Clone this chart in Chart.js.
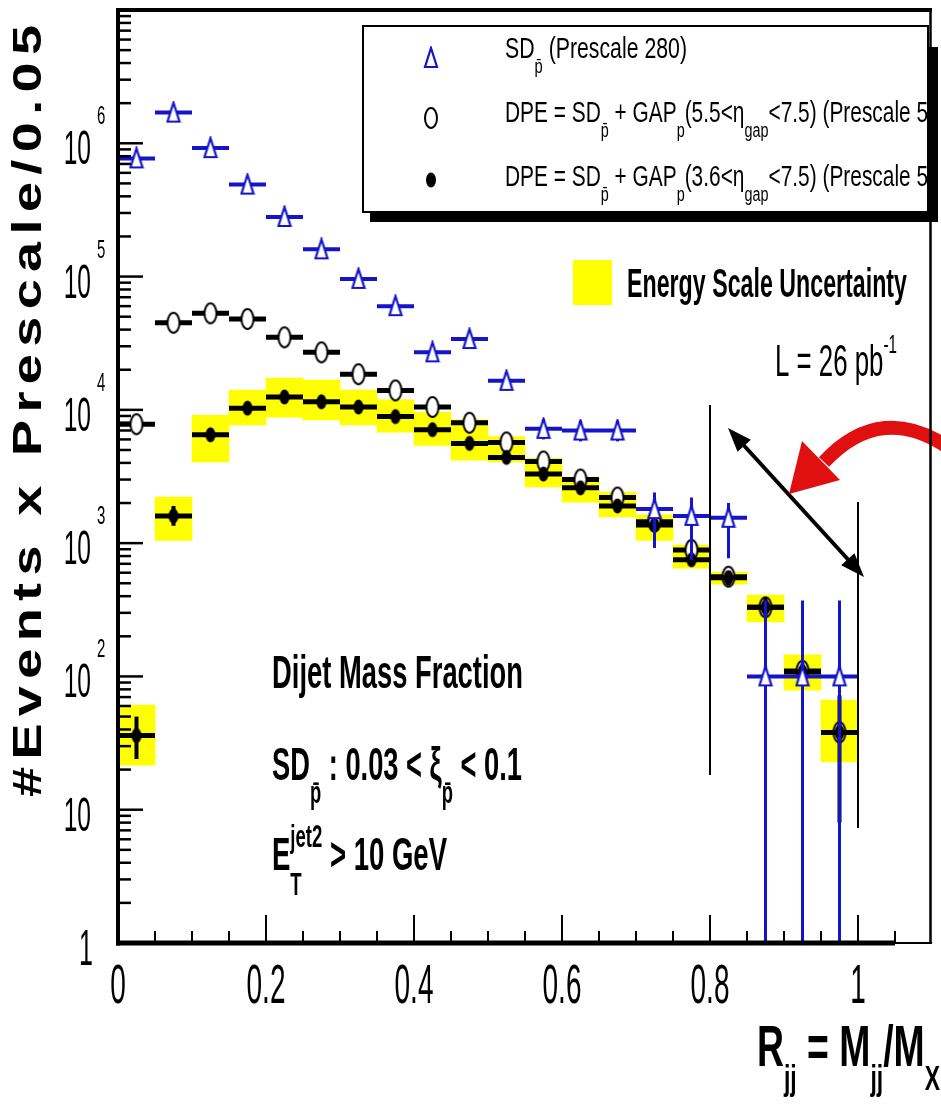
<!DOCTYPE html>
<html>
<head>
<meta charset="utf-8">
<script src="https://cdn.jsdelivr.net/npm/chart.js@4.4.1/dist/chart.umd.min.js"></script>
<style>
html,body{margin:0;padding:0;background:#fff;}
canvas{display:block;}
</style>
</head>
<body>
<canvas id="c" width="941" height="1112"></canvas>
<script>
// ---------------- data ----------------
const binCenters = [0.025,0.075,0.125,0.175,0.225,0.275,0.325,0.375,0.425,0.475,0.525,0.575,0.625,0.675,0.725,0.775,0.825,0.875,0.925,0.975];
const binHalfWidth = 0.025;

// SD_pbar (Prescale 280) - open blue triangles
const sdValues  = [7.7e5,1.7e6,9.2e5,4.9e5,2.8e5,1.6e5,9.6e4,6.0e4,2.7e4,3.4e4,1.65e4,7.2e3,7.0e3,7.0e3,1800,1600,1550,100,100,100];
const sdErrLow  = [null,null,null,null,null,null,null,null,2.3e4,3.0e4,1.4e4,6.0e3,5.8e3,5.8e3,920,745,770,0.1,0.1,0.1];
const sdErrHigh = [null,null,null,null,null,null,null,null,3.1e4,3.8e4,1.9e4,8.5e3,8.3e3,8.3e3,2400,2200,2000,372,372,372];

// DPE, 5.5 < eta_gap < 7.5 - open circles
const dpe55Values = [7.8e3,4.5e4,5.3e4,4.8e4,3.5e4,2.7e4,1.85e4,1.4e4,1.05e4,8.0e3,5.7e3,4.1e3,3.0e3,2.2e3,1450,890,560,330,110,38];

// DPE, 3.6 < eta_gap < 7.5 - filled black
const dpe36Values  = [36,1600,6500,1.03e4,1.25e4,1.15e4,1.05e4,8.9e3,7.1e3,5.6e3,4.4e3,3.3e3,2.6e3,1.9e3,1370,750,550,330,108,38];
const dpe36ErrLow  = [24,1350,5900,null,null,null,null,null,null,null,null,null,null,null,null,680,480,280,92,8];
const dpe36ErrHigh = [50,1900,7200,null,null,null,null,null,null,null,null,null,null,null,null,830,620,390,125,72];

// Energy scale uncertainty band (yellow)
const energyLow  = [21.6,1050,4060,7700,8800,8400,7700,6800,5400,4200,4060,2640,2030,1570,1050,650,493,256,79,22.8];
const energyHigh = [61,2220,9100,14100,17300,16700,14100,11900,9600,8400,6300,4350,3130,2420,1630,968,607,408,145,66.5];

// axes
const xMin = 0, xMax = 1.1, xAxisEnd = 1.05;
const xTickValues = [0,0.2,0.4,0.6,0.8,1.0];
const xTickLabels = ['0','0.2','0.4','0.6','0.8','1'];
const yMin = 1, yMax = 1e7;
const yTickExponents = [0,1,2,3,4,5,6];

// ---------------- style helpers ----------------
const BLUE = '#1414c8';
const FAM = '"Liberation Sans", Arimo, Arial, sans-serif';

function makeMarker(w, h, draw) {
  const c = document.createElement('canvas');
  c.width = w; c.height = h;
  draw(c.getContext('2d'));
  return c;
}
const triImg = makeMarker(16, 24, g => {
  g.beginPath(); g.moveTo(8, 2); g.lineTo(14, 21); g.lineTo(2, 21); g.closePath();
  g.fillStyle = '#fff'; g.fill(); g.strokeStyle = BLUE; g.lineWidth = 2.2; g.stroke();
});
const circImg = makeMarker(16, 24, g => {
  g.beginPath(); g.ellipse(8, 12, 6, 10, 0, 0, Math.PI * 2);
  g.fillStyle = '#fff'; g.fill(); g.strokeStyle = '#000'; g.lineWidth = 2; g.stroke();
});
const dotImg = makeMarker(14, 18, g => {
  g.beginPath(); g.ellipse(7, 9, 5, 7.5, 0, 0, Math.PI * 2);
  g.fillStyle = '#000'; g.fill();
});

function line(ctx, x1, y1, x2, y2, w, color) {
  ctx.beginPath(); ctx.moveTo(x1, y1); ctx.lineTo(x2, y2);
  ctx.lineWidth = w; ctx.strokeStyle = color || '#000'; ctx.stroke();
}

function drawRich(ctx, parts, x, y, o) {
  const w8 = o.bold ? 'bold ' : '';
  const small = o.small || 0.68;
  const fontFor = m => w8 + (m === 'n' ? o.size : Math.round(o.size * small)) + 'px ' + FAM;
  let total = 0; const ws = [];
  parts.forEach(([t, m]) => {
    ctx.font = fontFor(m);
    const w = ctx.measureText(t).width; ws.push(w);
    if (m !== 'subk') total += w;
  });
  const sx = o.width ? o.width / total : (o.sx || 1);
  ctx.save();
  ctx.translate(x, y); ctx.scale(sx, 1);
  ctx.fillStyle = o.color || '#000'; ctx.textBaseline = 'alphabetic'; ctx.textAlign = 'left';
  let cx = o.align === 'right' ? -total : (o.align === 'center' ? -total / 2 : 0);
  parts.forEach(([t, m], i) => {
    ctx.font = fontFor(m);
    const dy = (m === 'sub' || m === 'subk') ? o.size * (o.subDy || 0.3) : (m === 'sup' ? -o.size * (o.supDy || 0.45) : 0);
    ctx.fillText(t, cx, dy);
    if (m !== 'subk') cx += ws[i];
  });
  ctx.restore();
}

function drawSpaced(ctx, text, o) {
  ctx.font = (o.bold ? 'bold ' : '') + o.size + 'px ' + FAM;
  ctx.textBaseline = 'alphabetic'; ctx.textAlign = 'left'; ctx.fillStyle = '#000';
  const chars = [...text];
  const ws = chars.map(ch => ctx.measureText(ch).width * o.sx);
  const sum = ws.reduce((s, w) => s + w, 0);
  const gap = (o.width - sum) / (chars.length - 1);
  let x = -o.width / 2;
  chars.forEach((ch, i) => {
    ctx.save(); ctx.translate(x, 0); ctx.scale(o.sx, 1); ctx.fillText(ch, 0, 0); ctx.restore();
    x += ws[i] + gap;
  });
}

function arrowHead(ctx, tipX, tipY, fromX, fromY, len, half) {
  const dx = tipX - fromX, dy = tipY - fromY, d = Math.hypot(dx, dy);
  const ux = dx / d, uy = dy / d;
  const bx = tipX - ux * len, by = tipY - uy * len;
  ctx.beginPath();
  ctx.moveTo(tipX, tipY);
  ctx.lineTo(bx - uy * half, by + ux * half);
  ctx.lineTo(bx + uy * half, by - ux * half);
  ctx.closePath(); ctx.fill();
}

// ---------------- error bars (drawn under each dataset's markers) ----------------
const errorBars = {
  id: 'errorBars',
  beforeDatasetDraw(chart, args) {
    const ds = chart.data.datasets[args.index];
    if (!ds.hBarWidth) return;
    const ctx = chart.ctx, xs = chart.scales.x, ys = chart.scales.y, a = chart.chartArea;
    ctx.save();
    ctx.beginPath(); ctx.rect(a.left, a.top, a.right - a.left, a.bottom - a.top); ctx.clip();
    ds.data.forEach((p, i) => {
      const px = xs.getPixelForValue(p.x);
      const py = ys.getPixelForValue(p.y);
      const x0 = xs.getPixelForValue(p.x - binHalfWidth);
      const x1 = xs.getPixelForValue(p.x + binHalfWidth);
      line(ctx, x0, py, x1, py, ds.hBarWidth, ds.barColor);
      if (ds.errLow && ds.errLow[i] != null) {
        const yl = ys.getPixelForValue(ds.errLow[i]);
        const yh = ys.getPixelForValue(ds.errHigh[i]);
        line(ctx, px, yh, px, yl, ds.vBarWidth, ds.barColor);
      }
    });
    ctx.restore();
  }
};

// ---------------- axes, frame, texts, legend, annotations ----------------
const decor = {
  id: 'decor',
  afterDraw(chart) {
    const ctx = chart.ctx, xs = chart.scales.x, ys = chart.scales.y, a = chart.chartArea;
    ctx.save();
    ctx.lineCap = 'butt';

    // annotation lines (R=0.8 and R=1 boundaries)
    const x08 = xs.getPixelForValue(0.8), x10 = xs.getPixelForValue(1.0);
    line(ctx, x08, 405, x08, 775, 2);
    line(ctx, x10, 502, x10, 828, 2);

    // black double arrow
    ctx.fillStyle = '#000';
    const ax1 = 728, ay1 = 428, ax2 = 864, ay2 = 577;
    line(ctx, ax1 + 10, ay1 + 11, ax2 - 10, ay2 - 11, 4);
    arrowHead(ctx, ax1, ay1, ax2, ay2, 24, 9);
    arrowHead(ctx, ax2, ay2, ax1, ay1, 24, 9);

    // red curved arrow
    ctx.strokeStyle = '#e01010'; ctx.fillStyle = '#e01010';
    ctx.lineWidth = 14; ctx.lineCap = 'butt';
    ctx.beginPath(); ctx.moveTo(952, 450); ctx.quadraticCurveTo(882, 400, 824, 462); ctx.stroke();
    ctx.beginPath(); ctx.moveTo(789, 494); ctx.lineTo(802, 441); ctx.lineTo(840, 480); ctx.closePath(); ctx.fill();
    ctx.lineCap = 'butt';

    // frame
    line(ctx, a.left - 2, a.top, a.right, a.top, 4);
    line(ctx, a.right - 1.5, a.top, a.right - 1.5, a.bottom, 2.5);
    line(ctx, a.left, a.top - 2, a.left, a.bottom + 2.5, 4);
    const xEnd = xs.getPixelForValue(xAxisEnd);
    line(ctx, a.left - 2, a.bottom, xEnd, a.bottom, 5);
    line(ctx, xEnd, a.bottom, a.right, a.bottom, 2);

    // x ticks
    for (let k = 1; k <= 21; k++) {
      const v = k * 0.05;
      const px = xs.getPixelForValue(v);
      const major = xTickValues.some(t => Math.abs(t - v) < 1e-6);
      line(ctx, px, a.bottom, px, a.bottom - (major ? 28 : 12), 2);
    }
    // x tick labels
    xTickValues.forEach((v, i) => {
      drawRich(ctx, [[xTickLabels[i], 'n']], xs.getPixelForValue(v), 1003, {size: 56, sx: 0.5, align: 'center'});
    });

    // y ticks
    for (let d = 0; d < 7; d++) {
      for (let k = 1; k <= 9; k++) {
        const v = k * Math.pow(10, d);
        const py = ys.getPixelForValue(v);
        line(ctx, a.left, py, a.left + (k === 1 ? 25 : 13), py, 2.5);
      }
    }
    // y tick labels
    yTickExponents.forEach(e => {
      const py = ys.getPixelForValue(Math.pow(10, e));
      if (e === 0) {
        drawRich(ctx, [['1', 'n']], 93, py + 22, {size: 50, sx: 0.5, align: 'right'});
      } else {
        drawRich(ctx, [['10', 'n']], 91, py + 21, {size: 49, sx: 0.5, align: 'right'});
        if (e >= 2) drawRich(ctx, [[String(e), 'n']], 97, py - 19, {size: 25, sx: 0.6});
      }
    });

    // y axis title
    ctx.save();
    ctx.translate(41, 411); ctx.rotate(-Math.PI / 2);
    drawSpaced(ctx, '#Events x Prescale/0.05', {size: 40, bold: true, sx: 1.35, width: 772});
    ctx.restore();

    // x axis title
    drawRich(ctx, [['R', 'n'], ['jj', 'sub'], [' = M', 'n'], ['jj', 'sub'], ['/M', 'n'], ['X', 'sub']],
      757, 1066, {size: 57, bold: true, width: 183, subDy: 0.42, small: 0.62});

    // legend box
    ctx.fillStyle = '#000';
    ctx.fillRect(370, 212, 568, 10);
    ctx.fillRect(928, 47, 10, 175);
    ctx.fillStyle = '#fff';
    ctx.fillRect(363, 26, 565, 186);
    ctx.strokeStyle = '#000'; ctx.lineWidth = 2;
    ctx.strokeRect(363, 26, 565, 186);
    ctx.drawImage(triImg, 431 - 8, 58 - 12);
    ctx.drawImage(circImg, 431 - 8, 118 - 12);
    ctx.drawImage(dotImg, 431 - 7, 180 - 9);
    ctx.save();
    ctx.beginPath(); ctx.rect(364, 27, 563, 184); ctx.clip();
    const lg = {size: 29, subDy: 0.5};
    drawRich(ctx, [['SD', 'n'], ['p\u0304', 'sub'], [' (Prescale 280)', 'n']], 505, 58, Object.assign({width: 182}, lg));
    drawRich(ctx, [['DPE = SD', 'n'], ['p\u0304', 'sub'], [' + GAP', 'n'], ['p', 'sub'], ['(5.5<\u03b7', 'n'], ['gap', 'sub'], ['<7.5) (Prescale 5)', 'n']],
      505, 122, Object.assign({width: 430}, lg));
    drawRich(ctx, [['DPE = SD', 'n'], ['p\u0304', 'sub'], [' + GAP', 'n'], ['p', 'sub'], ['(3.6<\u03b7', 'n'], ['gap', 'sub'], ['<7.5) (Prescale 5)', 'n']],
      505, 186, Object.assign({width: 430}, lg));
    ctx.restore();

    // energy scale legend
    ctx.fillStyle = '#ffff00';
    ctx.fillRect(573, 260, 39, 45);
    drawRich(ctx, [['Energy Scale Uncertainty', 'n']], 627, 297, {size: 40, bold: true, width: 280});

    // luminosity
    drawRich(ctx, [['L = 26 pb', 'n'], ['-1', 'sup']], 775, 376, {size: 44, width: 122, supDy: 0.52, small: 0.6});

    // bottom-left labels
    drawRich(ctx, [['Dijet Mass Fraction', 'n']], 272, 688, {size: 46, bold: true, width: 251});
    drawRich(ctx, [['SD', 'n'], ['p\u0304', 'sub'], [' : 0.03 < \u03be', 'n'], ['p\u0304', 'sub'], [' < 0.1', 'n']],
      272, 780, {size: 46, bold: true, width: 250, subDy: 0.5});
    drawRich(ctx, [['E', 'n'], ['T', 'subk'], ['jet2', 'sup'], [' > 10 GeV', 'n']],
      272, 870, {size: 46, bold: true, width: 175, subDy: 0.55, supDy: 0.5});

    ctx.restore();
  }
};

// ---------------- chart ----------------
const pts = vals => binCenters.map((x, i) => ({x: x, y: vals[i]}));

new Chart(document.getElementById('c'), {
  type: 'scatter',
  data: {
    datasets: [
      {
        type: 'bar',
        label: 'Energy Scale Uncertainty',
        data: binCenters.map((x, i) => ({x: x, y: [energyLow[i], energyHigh[i]]})),
        backgroundColor: '#ffff00',
        borderWidth: 0,
        barPercentage: 1,
        categoryPercentage: 1,
        grouped: false,
        order: 4
      },
      {
        label: 'DPE = SD + GAP (5.5<eta<7.5)',
        data: pts(dpe55Values),
        pointStyle: circImg, pointRadius: 8,
        hBarWidth: 5, vBarWidth: 4, barColor: '#000',
        order: 3
      },
      {
        label: 'DPE = SD + GAP (3.6<eta<7.5)',
        data: pts(dpe36Values),
        pointStyle: dotImg, pointRadius: 8,
        hBarWidth: 5, vBarWidth: 4, barColor: '#000',
        errLow: dpe36ErrLow, errHigh: dpe36ErrHigh,
        order: 2
      },
      {
        label: 'SD (Prescale 280)',
        data: pts(sdValues),
        pointStyle: triImg, pointRadius: 8,
        hBarWidth: 4, vBarWidth: 3, barColor: BLUE,
        errLow: sdErrLow, errHigh: sdErrHigh,
        order: 1
      }
    ]
  },
  options: {
    responsive: false,
    animation: false,
    devicePixelRatio: 1,
    events: [],
    layout: {padding: {left: 118, right: 1, top: 10, bottom: 169}},
    scales: {
      x: {type: 'linear', min: xMin, max: xMax, display: false, offset: false},
      y: {type: 'logarithmic', min: yMin, max: yMax, display: false}
    },
    plugins: {legend: {display: false}, tooltip: {enabled: false}}
  },
  plugins: [errorBars, decor]
});
</script>
</body>
</html>
